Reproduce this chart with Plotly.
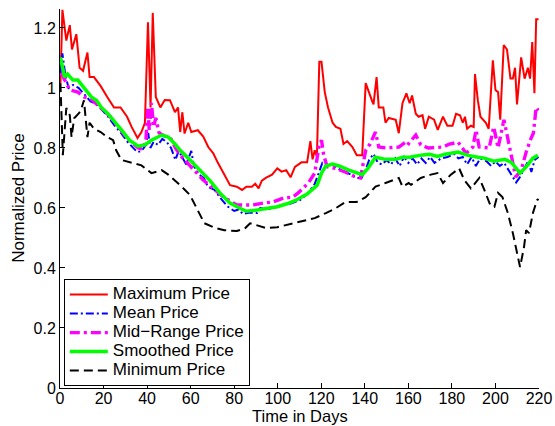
import plotly.graph_objects as go

# Daily price statistics, normalized

max_days = [0.2, 1.1, 2.9, 4.5, 5.5, 7.5, 9.0, 10.6, 12.6, 13.6, 15.6, 18.7, 21.7, 24.8, 27.8,
            30.8, 32.9, 35.6, 37.4, 39.0, 40.4, 41.6, 42.6, 44.0, 46.1, 48.1, 50.5, 52.8, 54.2,
            55.2, 56.2, 57.2, 58.9, 60.3, 63.3, 65.8, 68.1, 70.4, 72.4, 75.5, 78.1, 81.2, 83.6,
            85.6, 88.1, 89.7, 91.2, 92.7, 94.7, 97.4, 99.8, 101.8, 103.9, 105.9, 107.9, 110.9,
            113.5, 115.0, 116.0, 117.0, 118.0, 119.1, 120.1, 121.6, 123.1, 125.2, 126.7, 128.8,
            130.2, 131.9, 134.3, 136.3, 138.8, 140.4, 141.9, 143.4, 144.0, 145.4, 146.4, 148.5,
            149.5, 151.0, 154.2, 155.6, 157.3, 159.1, 160.6, 161.7, 163.4, 164.7, 166.5, 167.7,
            169.4, 171.8, 173.5, 175.9, 177.9, 180.3, 181.9, 183.7, 185.0, 186.0, 187.0, 188.7,
            190.0, 190.6, 191.9, 193.1, 195.6, 196.9, 198.8, 200.0, 201.2, 202.2, 203.8, 205.3,
            206.9, 208.0, 209.0, 209.9, 211.8, 213.4, 214.9, 215.9, 216.9, 217.9, 218.7, 219.8]
max_price = [1.016, 1.26, 1.158, 1.209, 1.128, 1.179, 1.067, 1.057, 1.118, 1.036, 1.036, 1.006,
             0.970, 0.935, 0.935, 0.904, 0.870, 0.833, 0.853, 0.884, 1.219, 0.935, 1.25, 0.970,
             0.935, 0.960, 0.959, 0.919, 0.935, 0.853, 0.919, 0.848, 0.884, 0.853, 0.859, 0.838,
             0.803, 0.782, 0.752, 0.711, 0.676, 0.671, 0.660, 0.671, 0.671, 0.681, 0.665, 0.691,
             0.701, 0.711, 0.732, 0.721, 0.726, 0.702, 0.737, 0.752, 0.752, 0.823, 0.762, 0.792,
             0.772, 1.087, 1.087, 0.986, 0.935, 0.884, 0.870, 0.864, 0.813, 0.823, 0.803, 0.776,
             0.776, 1.016, 0.982, 0.955, 0.945, 1.036, 0.935, 0.935, 0.884, 0.900, 0.894, 0.849,
             0.949, 0.982, 0.949, 0.975, 0.914, 0.904, 0.909, 0.864, 0.904, 0.894, 0.860, 0.904,
             0.874, 0.874, 0.914, 0.909, 0.884, 0.904, 0.864, 0.874, 0.870, 1.046, 0.959, 0.904,
             0.884, 0.864, 1.092, 0.993, 0.986, 0.894, 1.143, 1.128, 1.031, 1.031, 1.067, 0.945,
             1.102, 1.031, 1.067, 1.031, 1.153, 0.982, 1.229, 1.229]

mean_days = [0.2, 1.1, 2.5, 4, 6, 8.5, 11, 14, 17, 19.5, 22, 25, 28, 31, 34, 35.5, 37.5, 39.5,
             40.5, 41.5, 43, 45, 47, 49, 51, 53, 54.5, 56, 58, 60.3, 61.5, 64, 66, 68, 71, 74,
             77, 80, 82, 84, 87, 90.5, 92, 95, 98, 102, 106, 110, 114, 117, 119, 120.5, 122,
             125, 128, 131, 134, 136, 138.5, 140.5, 142, 144, 146, 148, 150, 152, 154, 156, 158,
             160, 162, 164, 166, 168, 170, 172, 175, 178, 181, 183, 185, 187, 189, 191, 193, 196,
             198, 200, 202, 204, 206, 208, 209.5, 211, 213, 215, 216.5, 218, 219.8]
mean_price = [1.05, 1.115, 1.04, 1.00, 1.01, 1.00, 0.98, 0.955, 0.945, 0.925, 0.905, 0.875,
              0.85, 0.82, 0.795, 0.786, 0.79, 0.81, 0.85, 0.80, 0.82, 0.81, 0.83, 0.82, 0.80,
              0.76, 0.79, 0.77, 0.745, 0.79, 0.74, 0.71, 0.70, 0.67, 0.66, 0.63, 0.605, 0.59,
              0.595, 0.58, 0.585, 0.583, 0.60, 0.595, 0.60, 0.61, 0.615, 0.625, 0.65, 0.68, 0.72,
              0.75, 0.74, 0.745, 0.73, 0.72, 0.71, 0.70, 0.70, 0.73, 0.76, 0.78, 0.75, 0.745,
              0.76, 0.745, 0.765, 0.74, 0.77, 0.75, 0.765, 0.745, 0.765, 0.75, 0.77, 0.75, 0.765,
              0.77, 0.78, 0.765, 0.77, 0.745, 0.77, 0.74, 0.765, 0.755, 0.74, 0.755, 0.74, 0.75,
              0.725, 0.70, 0.685, 0.70, 0.73, 0.755, 0.72, 0.76, 0.77]

mid_days = [0.5, 1.5, 4.5, 8.2, 11.0, 14, 17, 20, 23, 25, 28, 31, 34, 36, 38, 39.5, 40.3, 41,
            42, 43, 44, 45.5, 48, 51, 53, 55.2, 65.8, 75.1, 81.2, 88.6, 93.3, 97.8, 102.6, 106.9,
            109.4, 114.0, 117.0, 118.9, 120.1, 121.1, 122.7, 126.6, 131.2, 135.8, 138.0, 140.4,
            142.4, 144.9, 146.4, 149.5, 155.6, 158.6, 159.6, 163.4, 165.7, 169.1, 175.9, 178.9,
            182.9, 186.5, 189.6, 191.1, 192.5, 197.1, 199.2, 201.2, 203.9, 205.7, 208.0, 209.3,
            211.8, 214.1, 216.4, 217.4, 218.7, 219.8]
mid_price = [1.05, 1.036, 0.993, 0.986, 0.970, 0.965, 0.945, 0.925, 0.905, 0.885, 0.86, 0.83,
             0.81, 0.80, 0.795, 0.83, 0.93, 0.86, 0.95, 0.87, 0.90, 0.85, 0.84, 0.83, 0.80,
             0.776, 0.693, 0.636, 0.610, 0.610, 0.616, 0.620, 0.633, 0.636, 0.650, 0.683, 0.716,
             0.803, 0.826, 0.776, 0.737, 0.732, 0.719, 0.703, 0.700, 0.792, 0.813, 0.853, 0.803,
             0.800, 0.803, 0.819, 0.810, 0.843, 0.810, 0.800, 0.803, 0.813, 0.819, 0.782, 0.803,
             0.860, 0.803, 0.800, 0.870, 0.800, 0.894, 0.826, 0.749, 0.703, 0.726, 0.786, 0.833,
             0.849, 0.935, 0.925]

smooth_days = [0.2, 2.1, 3.5, 5.9, 8.2, 11.3, 14.4, 16.7, 19.0, 22.0, 25.2, 28.2, 31.9, 35.9,
               39.0, 42.0, 46.7, 49.7, 52.8, 55.2, 59.7, 64.3, 68.9, 73.4, 78.1, 82.6, 85.6,
               90.5, 94.7, 99.8, 103.9, 107.9, 113.5, 118.1, 120.1, 122.1, 125.2, 128.2, 132.7,
               138.8, 141.4, 144.9, 149.5, 154.2, 157.3, 160.6, 165.7, 169.8, 173.4, 176.9,
               182.9, 187.0, 191.9, 194.9, 199.2, 204.3, 207.3, 209.3, 211.3, 214.1, 217.2, 219.5]
smooth_price = [1.102, 1.036, 1.046, 1.026, 1.026, 0.996, 0.970, 0.959, 0.935, 0.914, 0.884,
                0.860, 0.826, 0.806, 0.810, 0.826, 0.843, 0.836, 0.813, 0.792, 0.760, 0.726,
                0.691, 0.650, 0.616, 0.599, 0.589, 0.593, 0.599, 0.604, 0.613, 0.624, 0.646,
                0.676, 0.716, 0.740, 0.746, 0.740, 0.726, 0.711, 0.732, 0.769, 0.762, 0.762,
                0.769, 0.769, 0.776, 0.779, 0.772, 0.779, 0.786, 0.776, 0.769, 0.766, 0.756,
                0.762, 0.752, 0.732, 0.716, 0.737, 0.766, 0.776]

min_days = [0.2, 1.3, 2.9, 4.5, 5.3, 6.5, 8.5, 9.6, 11.0, 12.1, 12.6, 13.6, 15.6, 18.7, 21.7,
            24.4, 25.8, 28.2, 32.9, 37.4, 42.0, 46.7, 49.7, 54.2, 55.9, 59.7, 63.3, 66.3, 71.4,
            75.5, 81.2, 85.1, 87.3, 90.5, 94.7, 99.8, 103.9, 107.9, 110.9, 117.0, 122.1, 126.6,
            131.2, 136.3, 140.4, 144.9, 149.5, 153.5, 155.6, 157.3, 160.1, 161.2, 165.7, 170.3,
            173.4, 175.9, 179.5, 183.3, 185.7, 188.7, 192.6, 194.9, 197.6, 199.5, 201.2, 203.2,
            205.7, 208.0, 210.3, 211.3, 213.1, 214.1, 215.4, 217.2, 219.1, 219.8]
min_price = [1.016, 0.776, 0.933, 0.909, 0.836, 0.899, 0.914, 0.925, 0.959, 0.884, 0.836, 0.884,
             0.864, 0.853, 0.836, 0.826, 0.792, 0.760, 0.752, 0.742, 0.716, 0.726, 0.711, 0.683,
             0.671, 0.643, 0.593, 0.549, 0.533, 0.526, 0.523, 0.533, 0.549, 0.543, 0.533, 0.536,
             0.543, 0.549, 0.554, 0.566, 0.583, 0.599, 0.620, 0.620, 0.636, 0.671, 0.683, 0.693,
             0.700, 0.671, 0.683, 0.677, 0.700, 0.711, 0.716, 0.683, 0.711, 0.732, 0.693, 0.665,
             0.700, 0.660, 0.610, 0.604, 0.650, 0.636, 0.583, 0.516, 0.437, 0.403, 0.469, 0.526,
             0.516, 0.583, 0.626, 0.630]

series_names = ["Maximum Price", "Mean Price", "Mid\u2212Range Price", "Smoothed Price",
                "Minimum Price"]

x_ticks = list(range(0, 221, 20))
y_ticks = [0, 0.2, 0.4, 0.6, 0.8, 1.0, 1.2]
y_tick_text = ["0", "0.2", "0.4", "0.6", "0.8", "1", "1.2"]

x_title = "Time in Days"
y_title = "Normalized Price"

FONT = "Liberation Sans, Arial, Helvetica, sans-serif"


def legend_label(text):
    # larger glyphs inside a compact legend row
    return '<span style="font-size:17px">' + text + "</span>"


fig = go.Figure()
fig.add_trace(go.Scatter(x=max_days, y=max_price, mode="lines", name=legend_label(series_names[0]),
                         line=dict(color="#ff0000", width=2)))
fig.add_trace(go.Scatter(x=mean_days, y=mean_price, mode="lines", name=legend_label(series_names[1]),
                         line=dict(color="#0000ff", width=2, dash="8px,3px,2px,3px")))
fig.add_trace(go.Scatter(x=mid_days, y=mid_price, mode="lines", name=legend_label(series_names[2]),
                         line=dict(color="#ff00ff", width=3.4, dash="10px,4px,3px,4px")))
fig.add_trace(go.Scatter(x=smooth_days, y=smooth_price, mode="lines", name=legend_label(series_names[3]),
                         line=dict(color="#00ff00", width=3.5)))
fig.add_trace(go.Scatter(x=min_days, y=min_price, mode="lines", name=legend_label(series_names[4]),
                         line=dict(color="#000000", width=2, dash="9px,5px")))

axis_common = dict(showline=True, linecolor="black", linewidth=1, showgrid=False,
                   zeroline=False, ticks="inside", ticklen=5, tickcolor="black",
                   tickfont=dict(family=FONT, size=16, color="black"), mirror=False,
                   automargin=False)

fig.update_xaxes(range=[0, 220], tickvals=x_ticks, ticklabelstandoff=-4, **axis_common)
fig.update_yaxes(range=[0, 1.263], tickvals=y_ticks, ticktext=y_tick_text, **axis_common)

# axis titles placed as paper-anchored labels
fig.add_annotation(text=x_title, xref="paper", yref="paper", x=0.5, y=-0.0726,
                   xanchor="center", yanchor="middle", showarrow=False,
                   font=dict(family=FONT, size=16.5, color="black"))
fig.add_annotation(text=y_title, xref="paper", yref="paper", x=-0.087, y=0.5,
                   xanchor="center", yanchor="middle", textangle=-90, showarrow=False,
                   font=dict(family=FONT, size=17, color="black"))

fig.update_layout(
    width=555, height=426,
    margin=dict(l=60, r=16, t=9, b=38),
    paper_bgcolor="white", plot_bgcolor="white",
    showlegend=True,
    legend=dict(x=0.008, y=0.005, xanchor="left", yanchor="bottom",
                bgcolor="white", bordercolor="black", borderwidth=1,
                font=dict(family=FONT, size=12.3, color="black"),
                tracegroupgap=0, itemwidth=38),
)

fig.write_html("out.html")
